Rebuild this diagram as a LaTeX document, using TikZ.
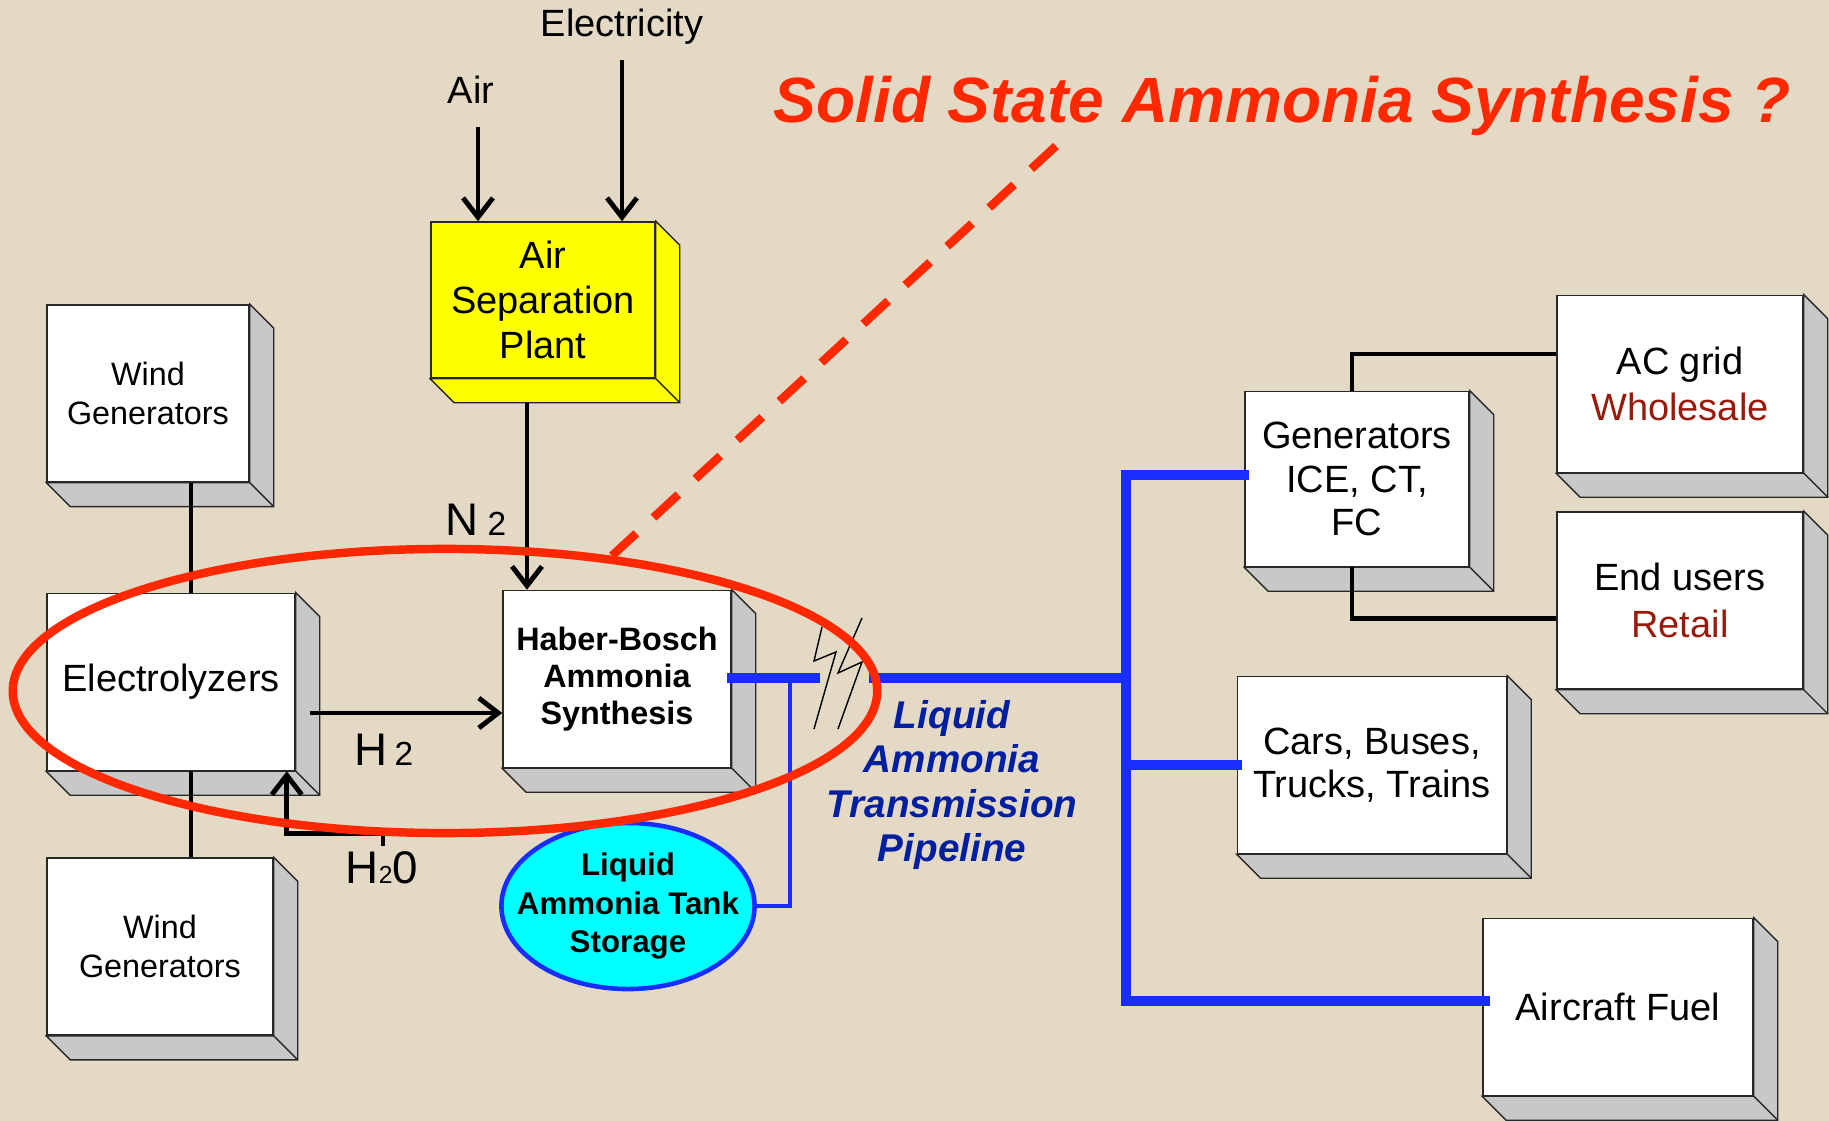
\documentclass[tikz,border=0pt]{standalone}
\usepackage{fontspec}
\setmainfont{Liberation Sans}
\usetikzlibrary{
  arrows.meta,
  positioning,
  calc,
  shapes.geometric
}
\definecolor{ssCanvas}{RGB}{227,217,197}
\definecolor{ssRed}{RGB}{255,40,0}
\definecolor{ssPipe}{RGB}{25,45,255}
\definecolor{ssNavy}{RGB}{0,30,160}
\definecolor{ssMaroon}{RGB}{155,25,10}
\definecolor{ssShade}{RGB}{200,200,200}
\definecolor{ssYellow}{RGB}{255,255,0}
\definecolor{ssCyan}{RGB}{0,255,255}
\definecolor{ssEdge}{RGB}{40,40,40}
\tikzset{
  slab/.style={
    draw=ssEdge,
    line width=0.4pt,
    fill=white,
    inner sep=0pt,
    align=center,
    minimum height=1.77cm,
    font=\fontsize{10.8}{12.6}\selectfont
  },
  slabshade/.style={
    fill=ssShade,
    draw=ssEdge,
    line width=0.4pt
  },
  flow/.style={
    -{Straight Barb[length=5.5pt,width=8.5pt]},
    line width=1.4pt,
    draw=black
  },
  link/.style={
    line width=1.4pt,
    draw=black
  },
  pipe/.style={
    line width=2.7pt,
    draw=ssPipe,
    line join=miter
  },
  feeder/.style={
    line width=1.1pt,
    draw=ssPipe
  },
  breakmark/.style={
    line width=0.4pt,
    draw=black
  },
  tank/.style={
    ellipse,
    draw=ssPipe,
    line width=1.3pt,
    fill=ssCyan,
    inner sep=0pt
  },
  tanktext/.style={
    inner sep=0pt,
    align=center,
    font=\bfseries\fontsize{8.9}{11}\selectfont
  },
  ring/.style={
    ellipse,
    draw=ssRed,
    line width=2.4pt,
    inner sep=0pt
  },
  hint/.style={
    draw=ssRed,
    line width=2.4pt,
    dash pattern=on 9.6pt off 6.64pt
  },
  tag/.style={
    inner sep=0pt,
    font=\fontsize{10.8}{12.6}\selectfont
  },
  gas/.style={
    inner sep=0pt,
    font=\fontsize{13}{15}\selectfont
  }
}

\begin{document}
\begin{tikzpicture}[x=0.01cm, y=-0.01cm]
  \useasboundingbox (0,0) rectangle (1829,1121);
  \fill[ssCanvas] (0,0) rectangle (1829,1121);

  % supply side
  \node[tag] (power) at (622,27) {Electricity};
  \node[tag] (air) at (471,90) {Air};
  \node[slab, fill=ssYellow, minimum width=2.24cm, minimum height=1.56cm,
    font=\fontsize{10.8}{12.8}\selectfont] (airsep) at (543,300) {Air\\Separation\\Plant};
  \node[slab, minimum width=2.48cm] (elyz) at (171,682) {Electrolyzers};
  \node[slab, minimum width=2.02cm, above=1.10cm of elyz.north west, anchor=south west,
    font=\fontsize{9.2}{11}\selectfont] (windA) {Wind\\Generators};
  \node[slab, minimum width=2.26cm, below=0.86cm of elyz.south west, anchor=north west,
    font=\fontsize{9.2}{11}\selectfont] (windB) {Wind\\Generators};
  \node[slab, minimum width=2.28cm, font=\bfseries\fontsize{9.2}{10.6}\selectfont] (haber)
    at (617,679) {Haber-Bosch\\Ammonia\\Synthesis};

  % demand side
  \node[slab, minimum width=2.24cm, minimum height=1.75cm,
    font=\fontsize{10.8}{12.4}\selectfont] (gen) at (1357,479) {Generators\\ICE, CT,\\FC};
  \node[slab, minimum width=2.46cm, font=\fontsize{10.8}{13}\selectfont] (acgrid)
    at (1680,384) {AC grid\\\textcolor{ssMaroon}{Wholesale}};
  \node[slab, minimum width=2.46cm, below=0.38cm of acgrid,
    font=\fontsize{10.8}{13.3}\selectfont] (endusr) {End users\\\textcolor{ssMaroon}{Retail}};
  \node[slab, minimum width=2.69cm, font=\fontsize{10.8}{12.3}\selectfont] (cars)
    at (1372,765) {Cars, Buses,\\Trucks, Trains};
  \node[slab, minimum width=2.70cm] (fuel) at (1618,1007) {Aircraft Fuel};

  % box depth
  \foreach \n/\c in {windA/ssShade, elyz/ssShade, windB/ssShade, airsep/ssYellow,
      haber/ssShade, gen/ssShade, acgrid/ssShade, endusr/ssShade, cars/ssShade, fuel/ssShade}{
    \filldraw[slabshade, fill=\c] (\n.north east) -- ++(24,24) -- ($(\n.south east)+(24,24)$)
      -- ($(\n.south west)+(24,24)$) -- (\n.south west) -- (\n.south east) -- cycle;
    \draw[slabshade] (\n.south east) -- ++(24,24);
  }

  \node[gas] (n2lbl) at (476,520) {N\hspace{2.5pt}{\fontsize{9.5}{11}\selectfont 2}};
  \node[gas] (h2lbl) at (384,750) {H\hspace{2pt}{\fontsize{9.5}{11}\selectfont 2}};
  \node[gas] (h2o) at (382,868) {H{\fontsize{7}{8}\selectfont 2}0};

  \coordinate (airIn) at ([shift={(7,23)}]air.south);
  \coordinate (powerIn) at ([shift={(0,15)}]power.south);
  \coordinate (n2Out) at ([shift={(-16,24)}]airsep.south);
  \coordinate (h2Out) at ([shift={(14,31)}]elyz.east);
  \coordinate (h2oIn) at ([shift={(1,-5)}]h2o.north);
  \coordinate (windAOut) at ([shift={(43,0)}]windA.south);
  \coordinate (windBIn) at ([shift={(20,0)}]elyz.south);

  \draw[flow] (airIn) -- (airIn |- airsep.north);
  \draw[flow] (powerIn) -- (powerIn |- airsep.north);
  \draw[flow] (n2Out) -- (n2Out |- haber.north);
  \draw[flow] (h2Out) -- (h2Out -| haber.west);
  \draw[flow] (h2oIn) -- ++(0,-13) -| ([shift={(-9,0)}]elyz.south east);
  \draw[link] (windAOut) -- (windAOut |- elyz.north);
  \draw[link] (windBIn) -- (windBIn |- windB.north);

  \draw[link] ([shift={(-5,0)}]gen.north) |- ([shift={(0,-30)}]acgrid.west);
  \draw[link] ([shift={(-5,0)}]gen.south) |- ([shift={(0,18)}]endusr.west);

  % pipeline
  \coordinate (brkL) at (820,678);
  \coordinate (brkR) at (869,678);
  \coordinate (feedTap) at (790,678);
  \coordinate (trunkBot) at (1126,1001);

  \node[tank, minimum width=2.53cm, minimum height=1.66cm] (store) at (628,906) {};
  \node[tanktext] (storetxt) at (store) {Liquid\\Ammonia Tank\\Storage};

  \draw[feeder] (feedTap) |- (store.east);
  \draw[pipe] ([shift={(-5,-1)}]haber.east) -- (brkL);
  \draw[pipe] (brkR) -- (brkR -| trunkBot);
  \draw[pipe] ([shift={(5,-4)}]gen.west) -| (trunkBot) -- (trunkBot -| fuel.west) -- ++(8,0);
  \draw[pipe] (cars.west -| trunkBot) -- ([shift={(5,0)}]cars.west);

  \draw[breakmark] ($(brkL)+(2,-51)$) -- ++(-8,34) -- ++(22,-9) -- ++(-22,77);
  \draw[breakmark] ($(brkR)+(-7,-60)$) -- ++(-24,55) -- ++(24,-11) -- ++(-24,67);

  \node[font=\bfseries\itshape\fontsize{11}{12.7}\selectfont, text=ssNavy, align=center,
    inner sep=0pt] (pipelbl) at (952,785) {Liquid\\Ammonia\\Transmission\\Pipeline};

  % highlight
  \node[ring, minimum width=8.64cm, minimum height=2.84cm] (focus) at (445,691) {};
  \node[font=\bfseries\itshape\fontsize{18.2}{22}\selectfont, text=ssRed, anchor=base west,
    inner sep=0pt] (title) at (773,122) {Solid State Ammonia Synthesis ?};
  \draw[hint] ([shift={(283,24)}]title.base west) -- (focus.39);
\end{tikzpicture}
\end{document}
